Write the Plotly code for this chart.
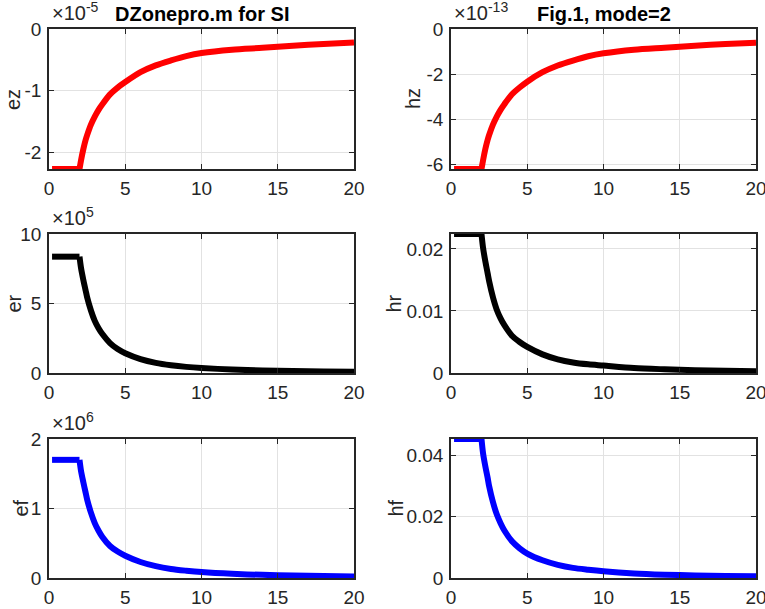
import plotly.graph_objects as go

# ---------------- data ----------------
r = [0.2, 2.0, 2.1, 2.25, 2.4, 2.5, 2.75, 3.0, 3.25, 3.5, 4.0, 4.5, 5.0, 6.0, 7.0, 8.0, 9.0, 10.0, 12.0, 14.0, 16.0, 18.0, 20.0]

# ez in units of 1e-5
ez = [-2.27, -2.27, -2.13, -1.95, -1.80, -1.72, -1.55, -1.42, -1.31, -1.22, -1.06, -0.95, -0.86, -0.70, -0.59, -0.51, -0.44, -0.39, -0.335, -0.305, -0.27, -0.245, -0.22]
# hz in units of 1e-13
hz = [-6.22, -6.22, -5.84, -5.34, -4.93, -4.71, -4.25, -3.89, -3.59, -3.34, -2.90, -2.60, -2.34, -1.92, -1.62, -1.40, -1.21, -1.08, -0.92, -0.83, -0.74, -0.67, -0.61]
# er in units of 1e5
er = [8.37, 8.37, 7.55, 6.70, 5.95, 5.45, 4.50, 3.75, 3.22, 2.80, 2.15, 1.72, 1.42, 1.00, 0.73, 0.56, 0.44, 0.36, 0.25, 0.18, 0.14, 0.11, 0.09]
# hr
hr = [0.0224, 0.0224, 0.0202, 0.0180, 0.0161, 0.0148, 0.0122, 0.0102, 0.0088, 0.0077, 0.0060, 0.0050, 0.0042, 0.0030, 0.0022, 0.0017, 0.0014, 0.0012, 0.0008, 0.0006, 0.00045, 0.00035, 0.0003]
# ef in units of 1e6
ef = [1.70, 1.70, 1.54, 1.38, 1.23, 1.13, 0.94, 0.79, 0.68, 0.59, 0.46, 0.38, 0.32, 0.23, 0.17, 0.13, 0.105, 0.085, 0.06, 0.045, 0.035, 0.028, 0.023]
# hf
hf = [0.0454, 0.0454, 0.0408, 0.0365, 0.0328, 0.0300, 0.0248, 0.0208, 0.0179, 0.0155, 0.0120, 0.0097, 0.0080, 0.0058, 0.0043, 0.0033, 0.0027, 0.0022, 0.0015, 0.0011, 0.00085, 0.00068, 0.00055]

x_ticks = [0, 5, 10, 15, 20]

panels = [
    # name, values, color, y range, y ticks, y tick labels, exponent
    ("ez", ez, "#ff0000", [-2.27, 0], [-2, -1, 0], ["-2", "-1", "0"], "-5"),
    ("hz", hz, "#ff0000", [-6.22, 0], [-6, -4, -2, 0], ["-6", "-4", "-2", "0"], "-13"),
    ("er", er, "#000000", [0, 10], [0, 5, 10], ["0", "5", "10"], "5"),
    ("hr", hr, "#000000", [0, 0.0224], [0, 0.01, 0.02], ["0", "0.01", "0.02"], None),
    ("ef", ef, "#0000ff", [0, 2], [0, 1, 2], ["0", "1", "2"], "6"),
    ("hf", hf, "#0000ff", [0, 0.0454], [0, 0.02, 0.04], ["0", "0.02", "0.04"], None),
]
titles = ["DZonepro.m for SI", "Fig.1, mode=2"]

# ---------------- layout geometry (pixels) ----------------
W, H = 765, 609
col_px = [(49, 354), (451, 756)]
row_px = [(29, 169), (234, 373), (439, 578)]
ylabel_x = [13, 413, 13, 393, 20, 395]

def px_x(p):
    return p / W

def px_y(p):
    return 1 - p / H

FONT = "Liberation Sans, Arial, Helvetica, sans-serif"
AXC = "#262626"

fig = go.Figure()
annotations = []
layout = {}

for i, (name, vals, color, yr, yt, ytl, expo) in enumerate(panels):
    row, col = divmod(i, 2)
    k = "" if i == 0 else str(i + 1)
    x0, x1 = col_px[col]
    y0, y1 = row_px[row]
    # flat inner part (straight) and decaying outer part (smooth)
    fig.add_trace(go.Scatter(x=r[:2], y=vals[:2], mode="lines",
                             line=dict(color=color, width=6),
                             xaxis="x" + k, yaxis="y" + k,
                             showlegend=False, hoverinfo="skip"))
    fig.add_trace(go.Scatter(x=r[1:], y=vals[1:], mode="lines",
                             line=dict(color=color, width=6, shape="spline", smoothing=0.8),
                             xaxis="x" + k, yaxis="y" + k,
                             showlegend=False, hoverinfo="skip"))
    common = dict(showline=True, linecolor=AXC, linewidth=1.6, mirror="ticks",
                  ticks="inside", ticklen=5, tickwidth=1.4, tickcolor=AXC,
                  showgrid=True, gridcolor="#e2e2e2", gridwidth=1,
                  zeroline=False, automargin=False, ticklabeloverflow="allow",
                  tickfont=dict(family=FONT, size=19, color=AXC))
    layout["xaxis" + k] = dict(domain=[px_x(x0), px_x(x1)], range=[0, 20],
                               tickvals=x_ticks, ticktext=[str(v) for v in x_ticks],
                               anchor="y" + k, ticklabelstandoff=1, **common)
    layout["yaxis" + k] = dict(domain=[px_y(y1), px_y(y0)], range=yr,
                               tickvals=yt, ticktext=ytl,
                               anchor="x" + k, ticklabelstandoff=2, **common)
    # y label
    annotations.append(dict(text=name, textangle=-90, xref="paper", yref="paper",
                            x=px_x(ylabel_x[i]), y=px_y((y0 + y1) / 2),
                            xanchor="center", yanchor="middle", showarrow=False,
                            font=dict(family=FONT, size=20, color=AXC)))
    if expo is not None:
        annotations.append(dict(text="\u00d710<sup>" + expo + "</sup>",
                                xref="paper", yref="paper",
                                x=px_x(x0 + 1), y=px_y(y0 - 3),
                                xanchor="left", yanchor="bottom", showarrow=False,
                                font=dict(family=FONT, size=20, color=AXC)))
    if row == 0:
        annotations.append(dict(text="<b>" + titles[col] + "</b>", xref="paper", yref="paper",
                                x=px_x((x0 + x1) / 2), y=px_y(14),
                                xanchor="center", yanchor="middle", showarrow=False,
                                font=dict(family=FONT, size=20, color="#000000")))

fig.update_layout(width=W, height=H, margin=dict(l=0, r=0, t=0, b=0),
                  paper_bgcolor="white", plot_bgcolor="white",
                  annotations=annotations, **layout)

fig.write_html("out.html", config={"displayModeBar": False},
               post_script="document.body.style.margin='0';document.body.style.overflow='hidden';")
